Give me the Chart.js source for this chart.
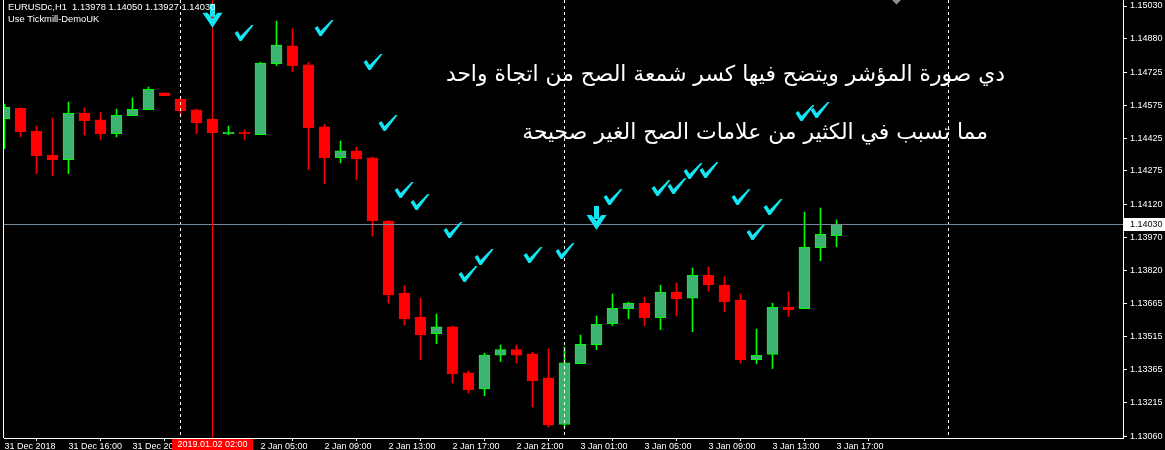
<!DOCTYPE html>
<html>
<head>
<meta charset="utf-8">
<script src="https://cdn.jsdelivr.net/npm/chart.js@4.4.1/dist/chart.umd.min.js"></script>
<style>
  html, body { margin: 0; padding: 0; background: #000; overflow: hidden; }
  canvas { display: block; }
</style>
</head>
<body>
<canvas id="chart" width="1165" height="450"></canvas>
<script>
// --- data ---
const symbolLine = 'EURUSDc,H1  1.13978 1.14050 1.13927 1.14030';
const accountLine = 'Use Tickmill-DemoUK';

const openP = [1.14514, 1.14561, 1.14457, 1.14347, 1.14326, 1.14538, 1.14508, 1.14445, 1.14528, 1.14555,
  1.14632, 1.14604, 1.14554, 1.14512, 1.14445, 1.14453, 1.14440, 1.14766, 1.14847, 1.14760,
  1.14476, 1.14335, 1.14366, 1.14335, 1.14045, 1.13715, 1.13605, 1.13529, 1.13560, 1.13349,
  1.13276, 1.13431, 1.13456, 1.13437, 1.13327, 1.13113, 1.13391, 1.13478, 1.13575, 1.13643,
  1.13668, 1.13602, 1.13719, 1.13691, 1.13796, 1.13751, 1.13683, 1.13410, 1.13434, 1.13651,
  1.13643, 1.13923, 1.13978];
const highP = [1.14581, 1.14563, 1.14480, 1.14517, 1.14590, 1.14563, 1.14544, 1.14558, 1.14609, 1.14659,
  1.14632, 1.14609, 1.14558, 1.14515, 1.14480, 1.14462, 1.14773, 1.14961, 1.14925, 1.14772,
  1.14488, 1.14412, 1.14384, 1.14338, 1.14048, 1.13749, 1.13692, 1.13619, 1.13564, 1.13358,
  1.13440, 1.13477, 1.13477, 1.13444, 1.13459, 1.13468, 1.13523, 1.13610, 1.13711, 1.13674,
  1.13697, 1.13751, 1.13761, 1.13830, 1.13834, 1.13789, 1.13711, 1.13550, 1.13669, 1.13720,
  1.14086, 1.14105, 1.14050];
const lowP = [1.14376, 1.14431, 1.14262, 1.14253, 1.14262, 1.14439, 1.14418, 1.14430, 1.14528, 1.14555,
  1.14619, 1.14523, 1.14445, 1.14445, 1.14440, 1.14418, 1.14440, 1.14757, 1.14729, 1.14280,
  1.14216, 1.14311, 1.14234, 1.13976, 1.13669, 1.13569, 1.13410, 1.13483, 1.13303, 1.13257,
  1.13245, 1.13401, 1.13395, 1.13193, 1.13101, 1.13098, 1.13391, 1.13456, 1.13565, 1.13598,
  1.13565, 1.13547, 1.13611, 1.13538, 1.13724, 1.13630, 1.13395, 1.13391, 1.13369, 1.13607,
  1.13643, 1.13863, 1.13927];
const closeP = [1.14566, 1.14454, 1.14344, 1.14326, 1.14538, 1.14505, 1.14445, 1.14529, 1.14557, 1.14648,
  1.14619, 1.14550, 1.14495, 1.14450, 1.14453, 1.14445, 1.14769, 1.14851, 1.14757, 1.14473,
  1.14335, 1.14366, 1.14329, 1.14045, 1.13706, 1.13596, 1.13523, 1.13560, 1.13346, 1.13272,
  1.13431, 1.13456, 1.13431, 1.13312, 1.13111, 1.13395, 1.13480, 1.13572, 1.13645, 1.13668,
  1.13602, 1.13719, 1.13689, 1.13796, 1.13753, 1.13675, 1.13410, 1.13430, 1.13650, 1.13639,
  1.13925, 1.13984, 1.14030];

const xTickIdx = [0, 4, 8, 12, 16, 20, 24, 28, 32, 36, 40, 44, 48, 52];
const xTickLabels = ['31 Dec 2018', '31 Dec 16:00', '31 Dec 20:00', '2 Jan 01:00', '2 Jan 05:00',
  '2 Jan 09:00', '2 Jan 13:00', '2 Jan 17:00', '2 Jan 21:00', '3 Jan 01:00', '3 Jan 05:00',
  '3 Jan 09:00', '3 Jan 13:00', '3 Jan 17:00'];
const yTickValues = [1.15030, 1.14880, 1.14725, 1.14575, 1.14425, 1.14275, 1.14120,
  1.13970, 1.13820, 1.13665, 1.13515, 1.13365, 1.13215, 1.13060];

const daySeparators = [11, 35, 59];
const cursorIdx = 13;
const cursorLabel = '2019.01.02 02:00';
const bidPrice = 1.14030;

// check-mark objects (bar index, price)
const checkIdx = [14.94, 19.94, 23.0, 23.94, 24.94, 25.94, 28.0, 28.94, 29.94, 33.0, 35.0,
  38.0, 41.0, 42.0, 43.0, 44.0, 46.0, 46.94, 48.0, 50.0, 50.94];
const checkPrice = [1.14906, 1.14929, 1.14773, 1.14494, 1.14187, 1.14132, 1.14004, 1.13802, 1.13880,
  1.13889, 1.13908, 1.14155, 1.14196, 1.14205, 1.14274, 1.14279, 1.14155, 1.13995, 1.14109,
  1.14540, 1.14554];
// arrow objects (bar index, price)
const arrowIdx = [13, 37];
const arrowPrice = [1.14985, 1.14059];
// grey marker partly off the top edge
const markerIdx = [55.75];
const markerPrice = [1.15060];

const noteLines = [
  'دي صورة المؤشر ويتضح فيها كسر شمعة الصح من اتجاة واحد',
  'مما تسبب في الكثير من علامات الصح الغير صحيحة'
];

const UP_BODY = '#3CB371', UP_LINE = '#00FF00', DOWN = '#FF0000', CYAN = '#12e6f2';
const axisFont = { family: '"Liberation Sans", Arial, sans-serif', size: 9 };

const up = openP.map((o, i) => closeP[i] >= o);
const bodies = openP.map((o, i) => ({ x: i, y: [o, closeP[i]] }));
const wicks = openP.map((o, i) => ({ x: i, y: [lowP[i], highP[i]] }));

function drawCheck(ctx, cx, cy) {
  ctx.beginPath();
  ctx.moveTo(cx - 9, cy);
  ctx.lineTo(cx - 6, cy - 2);
  ctx.lineTo(cx - 3, cy + 3);
  ctx.lineTo(cx + 8, cy - 8);
  ctx.lineTo(cx + 10, cy - 8);
  ctx.lineTo(cx - 2, cy + 8);
  ctx.lineTo(cx - 4, cy + 8);
  ctx.closePath();
  ctx.fill();
}

function drawArrow(ctx, cx, cy) {
  ctx.fillRect(cx - 2.5, cy - 12, 5, 13);
  ctx.beginPath();
  ctx.moveTo(cx - 10, cy - 3);
  ctx.lineTo(cx - 5, cy - 3);
  ctx.lineTo(cx, cy + 3);
  ctx.lineTo(cx + 5, cy - 3);
  ctx.lineTo(cx + 10, cy - 3);
  ctx.lineTo(cx, cy + 12);
  ctx.closePath();
  ctx.fill();
}

const overlay = {
  id: 'overlay',
  beforeDraw(chart) {
    const ctx = chart.ctx;
    ctx.save();
    ctx.fillStyle = '#000';
    ctx.fillRect(0, 0, chart.width, chart.height);
    ctx.restore();
  },
  afterDatasetsDraw(chart) {
    const { ctx, chartArea: a, scales: { x, y } } = chart;
    ctx.save();

    // left frame
    ctx.strokeStyle = '#fff';
    ctx.lineWidth = 1;
    ctx.beginPath();
    ctx.moveTo(a.left - 0.5, a.top);
    ctx.lineTo(a.left - 0.5, a.bottom);
    ctx.stroke();

    // day separators
    ctx.setLineDash([3, 3]);
    daySeparators.forEach(d => {
      const px = Math.floor(x.getPixelForValue(d)) + 0.5;
      ctx.beginPath();
      ctx.moveTo(px, a.top);
      ctx.lineTo(px, a.bottom);
      ctx.stroke();
    });
    ctx.setLineDash([]);

    // bid line
    const by = Math.round(y.getPixelForValue(bidPrice)) + 0.5;
    ctx.strokeStyle = '#778899';
    ctx.beginPath();
    ctx.moveTo(a.left, by);
    ctx.lineTo(a.right, by);
    ctx.stroke();

    // crosshair
    const cxp = Math.floor(x.getPixelForValue(cursorIdx)) + 0.5;
    ctx.strokeStyle = DOWN;
    ctx.lineWidth = 1;
    ctx.beginPath();
    ctx.moveTo(cxp, a.top);
    ctx.lineTo(cxp, a.bottom);
    ctx.stroke();

    // objects
    ctx.fillStyle = CYAN;
    checkIdx.forEach((c, i) => drawCheck(ctx, x.getPixelForValue(c), y.getPixelForValue(checkPrice[i])));
    arrowIdx.forEach((c, i) => drawArrow(ctx, x.getPixelForValue(c), y.getPixelForValue(arrowPrice[i])));
    ctx.fillStyle = '#8a8f99';
    markerIdx.forEach((c, i) => {
      const mx = x.getPixelForValue(c), my = y.getPixelForValue(markerPrice[i]);
      ctx.beginPath();
      ctx.moveTo(mx - 5, my);
      ctx.lineTo(mx, my - 5);
      ctx.lineTo(mx + 5, my);
      ctx.lineTo(mx, my + 5);
      ctx.closePath();
      ctx.fill();
    });

    // notes
    ctx.fillStyle = '#fff';
    ctx.direction = 'rtl';
    ctx.textAlign = 'right';
    ctx.textBaseline = 'middle';
    const notePos = [[1005, 75, 560], [988, 133, 465]];
    noteLines.forEach((t, i) => {
      const [rx, cy, w] = notePos[i];
      ctx.font = '20px "DejaVu Sans"';
      const size = 20 * w / ctx.measureText(t).width;
      ctx.font = size.toFixed(1) + 'px "DejaVu Sans"';
      ctx.fillText(t, rx, cy);
    });

    // header
    ctx.direction = 'ltr';
    ctx.textAlign = 'left';
    ctx.font = '9.4px "Liberation Sans", Arial, sans-serif';
    ctx.fillText(symbolLine, 8, 7);
    ctx.fillText(accountLine, 8, 19);
    ctx.restore();
  },
  afterDraw(chart) {
    const { ctx, chartArea: a, scales: { x, y } } = chart;
    ctx.save();
    ctx.font = '9px "Liberation Sans", Arial, sans-serif';
    ctx.textBaseline = 'middle';

    // bid label on price axis
    const by = Math.round(y.getPixelForValue(bidPrice));
    ctx.fillStyle = '#fff';
    ctx.fillRect(a.right + 1, by - 6, chart.width - a.right - 1, 13);
    ctx.fillStyle = '#000';
    ctx.textAlign = 'left';
    ctx.fillText(bidPrice.toFixed(5), a.right + 7, by + 0.5);

    // crosshair time label
    const cxp = Math.floor(x.getPixelForValue(cursorIdx));
    ctx.fillStyle = DOWN;
    ctx.fillRect(cxp - 40, a.bottom + 1, 81, chart.height - a.bottom - 1);
    ctx.fillStyle = '#fff';
    ctx.textAlign = 'center';
    ctx.fillText(cursorLabel, cxp + 0.5, a.bottom + 7);
    ctx.restore();
  }
};

new Chart(document.getElementById('chart'), {
  type: 'bar',
  data: {
    datasets: [
      {
        data: bodies,
        backgroundColor: up.map(u => u ? UP_BODY : DOWN),
        borderColor: up.map(u => u ? UP_LINE : DOWN),
        borderWidth: 1,
        borderSkipped: false,
        barThickness: 11,
        minBarLength: 1,
        grouped: false,
        order: 0
      },
      {
        data: wicks,
        backgroundColor: up.map(u => u ? UP_LINE : DOWN),
        borderWidth: 0,
        barThickness: 1,
        grouped: false,
        order: 1
      }
    ]
  },
  options: {
    responsive: false,
    animation: false,
    devicePixelRatio: 1,
    layout: { padding: { left: 4, top: 0, right: 0, bottom: 0 } },
    plugins: { legend: { display: false }, tooltip: { enabled: false } },
    scales: {
      x: {
        type: 'linear',
        min: -0.03125,
        max: 69.906,
        offset: false,
        grid: { drawOnChartArea: false, drawTicks: true, tickLength: 3, color: '#fff' },
        border: { display: true, color: '#fff' },
        ticks: {
          color: '#fff', font: axisFont, align: 'start', padding: 0,
          autoSkip: false, maxRotation: 0,
          callback: (v, i) => xTickLabels[i]
        },
        afterBuildTicks: s => { s.ticks = xTickIdx.map(v => ({ value: v })); },
        afterFit: s => { s.height = 12; s.paddingLeft = 0; s.paddingRight = 0; }
      },
      y: {
        type: 'linear',
        position: 'right',
        min: 1.13051,
        max: 1.150575,
        grid: { drawOnChartArea: false, drawTicks: true, tickLength: 4, color: '#fff' },
        border: { display: true, color: '#fff' },
        ticks: {
          color: '#fff', font: axisFont, padding: 3,
          callback: v => v.toFixed(5)
        },
        afterBuildTicks: s => { s.ticks = yTickValues.map(v => ({ value: v })); },
        afterFit: s => { s.width = 42; s.paddingTop = 0; s.paddingBottom = 0; }
      }
    }
  },
  plugins: [overlay]
});
</script>
</body>
</html>
